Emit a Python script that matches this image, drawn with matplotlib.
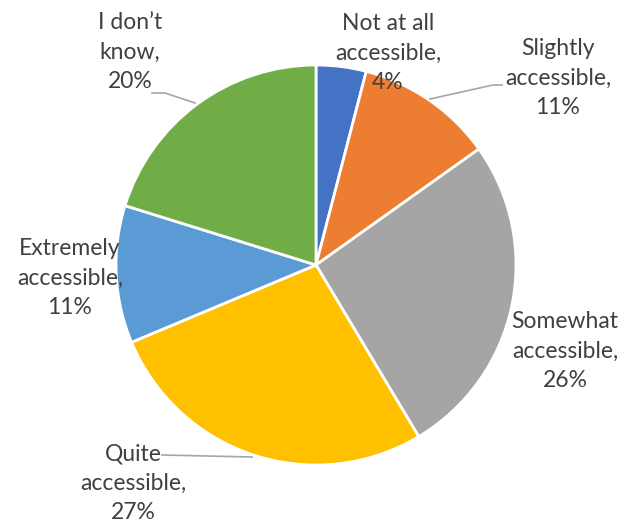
import matplotlib
matplotlib.use("Agg")
import matplotlib.pyplot as plt

labels = ["Not at all\naccessible,", "Slightly\naccessible,", "Somewhat\naccessible,",
          "Quite\naccessible,", "Extremely\naccessible,", "I don\u2019t\nknow,"]
shares = [4, 11, 26, 27, 11, 20]
colors = ["#4472C4", "#ED7D31", "#A5A5A5", "#FFC000", "#5B9BD5", "#70AD47"]

# label block centres (data units, pie radius = 1)
label_pos = [(0.36, 1.06), (1.21, 0.935), (1.245, -0.43),
             (-0.915, -1.09), (-1.23, -0.065), (-0.93, 1.065)]
# leader lines for labels that sit away from their slice
leaders = {
    1: [(0.57, 0.83), (0.885, 0.90), (0.93, 0.90)],
    3: [(-0.77, -0.95), (-0.32, -0.96)],
    5: [(-0.82, 0.86), (-0.755, 0.86), (-0.605, 0.81)],
}

plt.rcParams["font.family"] = ["Lato", "DejaVu Sans"]

fig = plt.figure(figsize=(6.24, 5.25), dpi=100)
ax = fig.add_axes([0, 0, 1, 1])
ax.pie(shares, colors=colors, startangle=90, counterclock=False, radius=1,
       wedgeprops={"edgecolor": "white", "linewidth": 2})
ax.set_xlim(-1.58, 1.54)
ax.set_ylim(-1.3, 1.325)
ax.set_aspect("equal")
ax.axis("off")

for i, (lab, s) in enumerate(zip(labels, shares)):
    x, y = label_pos[i]
    ax.text(x, y, f"{lab}\n{s}%", ha="center", va="center", fontsize=16.5,
            color="#404040", linespacing=1.5)
    if i in leaders:
        xs, ys = zip(*leaders[i])
        ax.plot(xs, ys, color="#A6A6A6", lw=1.2)

fig.savefig("out.png", dpi=100)
